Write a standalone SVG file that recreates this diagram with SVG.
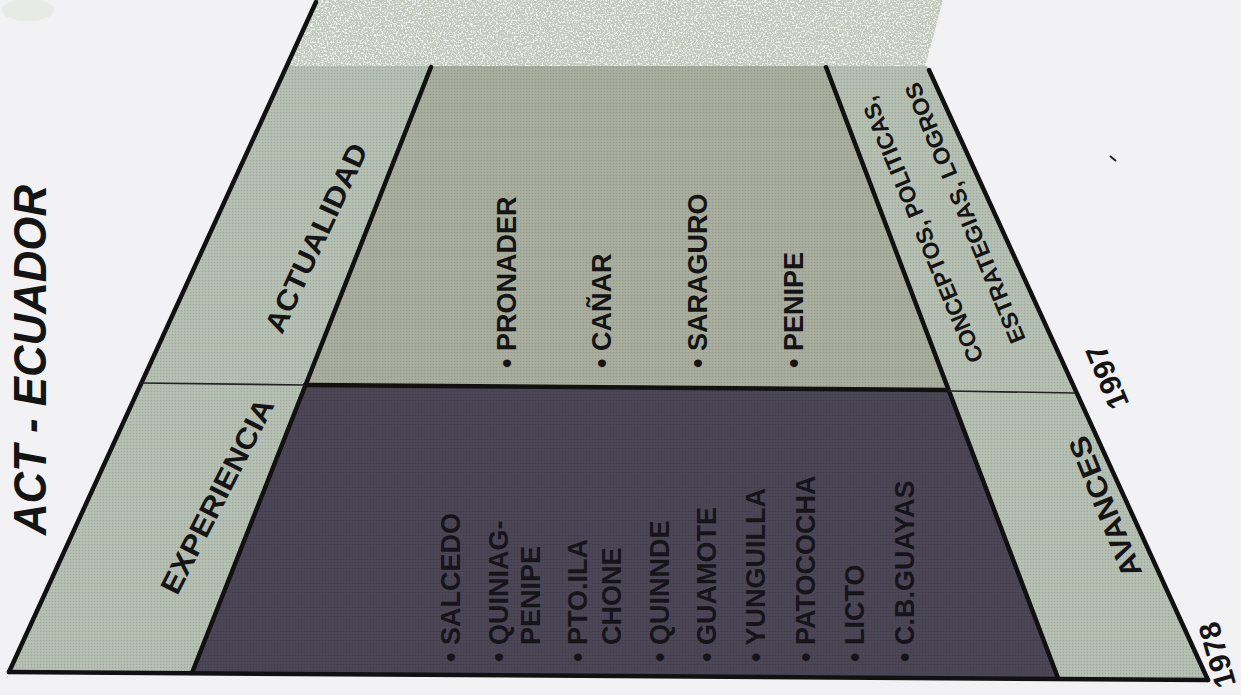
<svg xmlns="http://www.w3.org/2000/svg" width="1241" height="695" viewBox="0 0 1241 695">
  <defs>
    <style>
      .lbl { font-family: "Liberation Sans", Arial, sans-serif; font-weight: bold; fill: #141414; }
      .dk { font-family: "Liberation Sans", Arial, sans-serif; font-weight: bold; fill: #16141b; font-size: 27px; }
      .ct { font-family: "Liberation Sans", Arial, sans-serif; font-weight: bold; fill: #141414; font-size: 27px; }
      .thick { stroke: #111; stroke-width: 4.5; fill: none; stroke-linecap: round; }
      .thin { stroke: #222; stroke-width: 1.6; fill: none; }
    </style>
    <pattern id="ht" width="3" height="3" patternUnits="userSpaceOnUse">
      <circle cx="1.5" cy="1.5" r="0.75" fill="#000" opacity="0.13"/>
    </pattern>
    <filter id="grain" x="0" y="0" width="1" height="1">
      <feTurbulence type="fractalNoise" baseFrequency="0.55" numOctaves="2" seed="7" result="n"/>
      <feColorMatrix in="n" type="matrix" values="0 0 0 0 1  0 0 0 0 1  0 0 0 0 1  5 0 0 0 -2.4" result="c"/>
      <feComposite in="c" in2="SourceGraphic" operator="in"/>
    </filter>
  </defs>

  <rect width="1241" height="695" fill="#f2f2f4"/>
  <ellipse cx="28" cy="10" rx="26" ry="11" fill="#dfe4db" opacity="0.6"/>
  <path d="M1110,156 L1116,161" stroke="#222" stroke-width="2"/>

  <g id="band">
    <polygon points="315,0 943,0 925,67 285,67" fill="#c3cbbf"/>
    <polygon points="315,0 943,0 925,67 285,67" fill="#fff" filter="url(#grain)" opacity="0.8"/>
  </g>

  <g id="strip-left">
    <polygon points="285,66 431,66 192,673 9,672" fill="#b6c1b4"/>
    <polygon points="285,66 431,66 192,673 9,672" fill="url(#ht)"/>
    <text class="lbl" font-size="29" text-anchor="middle" dy="0.35em" textLength="205" lengthAdjust="spacingAndGlyphs" transform="translate(316,238) rotate(-65)">ACTUALIDAD</text>
    <text class="lbl" font-size="29" text-anchor="middle" dy="0.35em" textLength="215" lengthAdjust="spacingAndGlyphs" transform="translate(217,496) rotate(-63)">EXPERIENCIA</text>
  </g>

  <g id="center-top">
    <polygon points="431,66 826,66 948,390 305,385" fill="#a9ae9f"/>
    <polygon points="431,66 826,66 948,390 305,385" fill="url(#ht)"/>
    <text class="ct" transform="translate(516,368) rotate(-90)">• PRONADER</text>
    <text class="ct" transform="translate(611,368) rotate(-90)">• CAÑAR</text>
    <text class="ct" transform="translate(707,368) rotate(-90)">• SARAGURO</text>
    <text class="ct" transform="translate(803,368) rotate(-90)">• PENIPE</text>
  </g>

  <g id="center-bottom">
    <polygon points="305,385 948,390 1058,678 192,673" fill="#4b4656"/>
    <polygon points="305,385 948,390 1058,678 192,673" fill="url(#ht)"/>
    <text class="dk" transform="translate(460,662) rotate(-90)">• SALCEDO</text>
    <text class="dk" transform="translate(508,662) rotate(-90)">• QUINIAG-</text>
    <text class="dk" transform="translate(540,645) rotate(-90)">PENIPE</text>
    <text class="dk" transform="translate(587,662) rotate(-90)">• PTO.ILA</text>
    <text class="dk" transform="translate(621,645) rotate(-90)">CHONE</text>
    <text class="dk" transform="translate(669,662) rotate(-90)">• QUINNDE</text>
    <text class="dk" transform="translate(716,662) rotate(-90)">• GUAMOTE</text>
    <text class="dk" transform="translate(765,662) rotate(-90)">• YUNGUILLA</text>
    <text class="dk" transform="translate(815,662) rotate(-90)">• PATOCOCHA</text>
    <text class="dk" transform="translate(864,662) rotate(-90)">• LICTO</text>
    <text class="dk" transform="translate(914,662) rotate(-90)">• C.B.GUAYAS</text>
  </g>

  <g id="strip-right">
    <polygon points="826,66 927,66 1208,680 1058,678" fill="#b6c1b4"/>
    <polygon points="826,66 927,66 1208,680 1058,678" fill="url(#ht)"/>
    <text class="lbl" font-size="23" text-anchor="middle" dy="0.35em" textLength="285" lengthAdjust="spacingAndGlyphs" transform="translate(922,230) rotate(-112.5)">CONCEPTOS, POLITICAS,</text>
    <text class="lbl" font-size="23" text-anchor="middle" dy="0.35em" textLength="280" lengthAdjust="spacingAndGlyphs" transform="translate(965,213) rotate(-112.5)">ESTRATEGIAS, LOGROS</text>
    <text class="lbl" font-size="29" text-anchor="middle" dy="0.35em" textLength="150" lengthAdjust="spacingAndGlyphs" transform="translate(1105,507) rotate(-112)">AVANCES</text>
  </g>

  <g id="connectors">
    <line class="thick" x1="316" y1="2" x2="9" y2="672"/>
    <line class="thick" x1="431" y1="67" x2="192" y2="673"/>
    <line class="thick" x1="826" y1="67" x2="1058" y2="678"/>
    <line class="thick" x1="929" y1="70" x2="1208" y2="680"/>
    <line class="thick" x1="9" y1="672" x2="1208" y2="680"/>
    <line class="thick" x1="305" y1="385" x2="948" y2="390"/>
    <line class="thin" x1="140" y1="383" x2="305" y2="385"/>
    <line class="thin" x1="948" y1="391" x2="1075" y2="393"/>
  </g>

  <g id="title">
    <text class="lbl" font-size="46" font-style="italic" textLength="350" lengthAdjust="spacingAndGlyphs" transform="translate(46,535) rotate(-90)">ACT - ECUADOR</text>
  </g>

  <g id="years">
    <text class="lbl" font-size="30" text-anchor="middle" dy="0.35em" transform="translate(1107,377) rotate(-112.5)">1997</text>
    <text class="lbl" font-size="30" text-anchor="middle" dy="0.35em" transform="translate(1217,655) rotate(-106)">1978</text>
  </g>
</svg>
